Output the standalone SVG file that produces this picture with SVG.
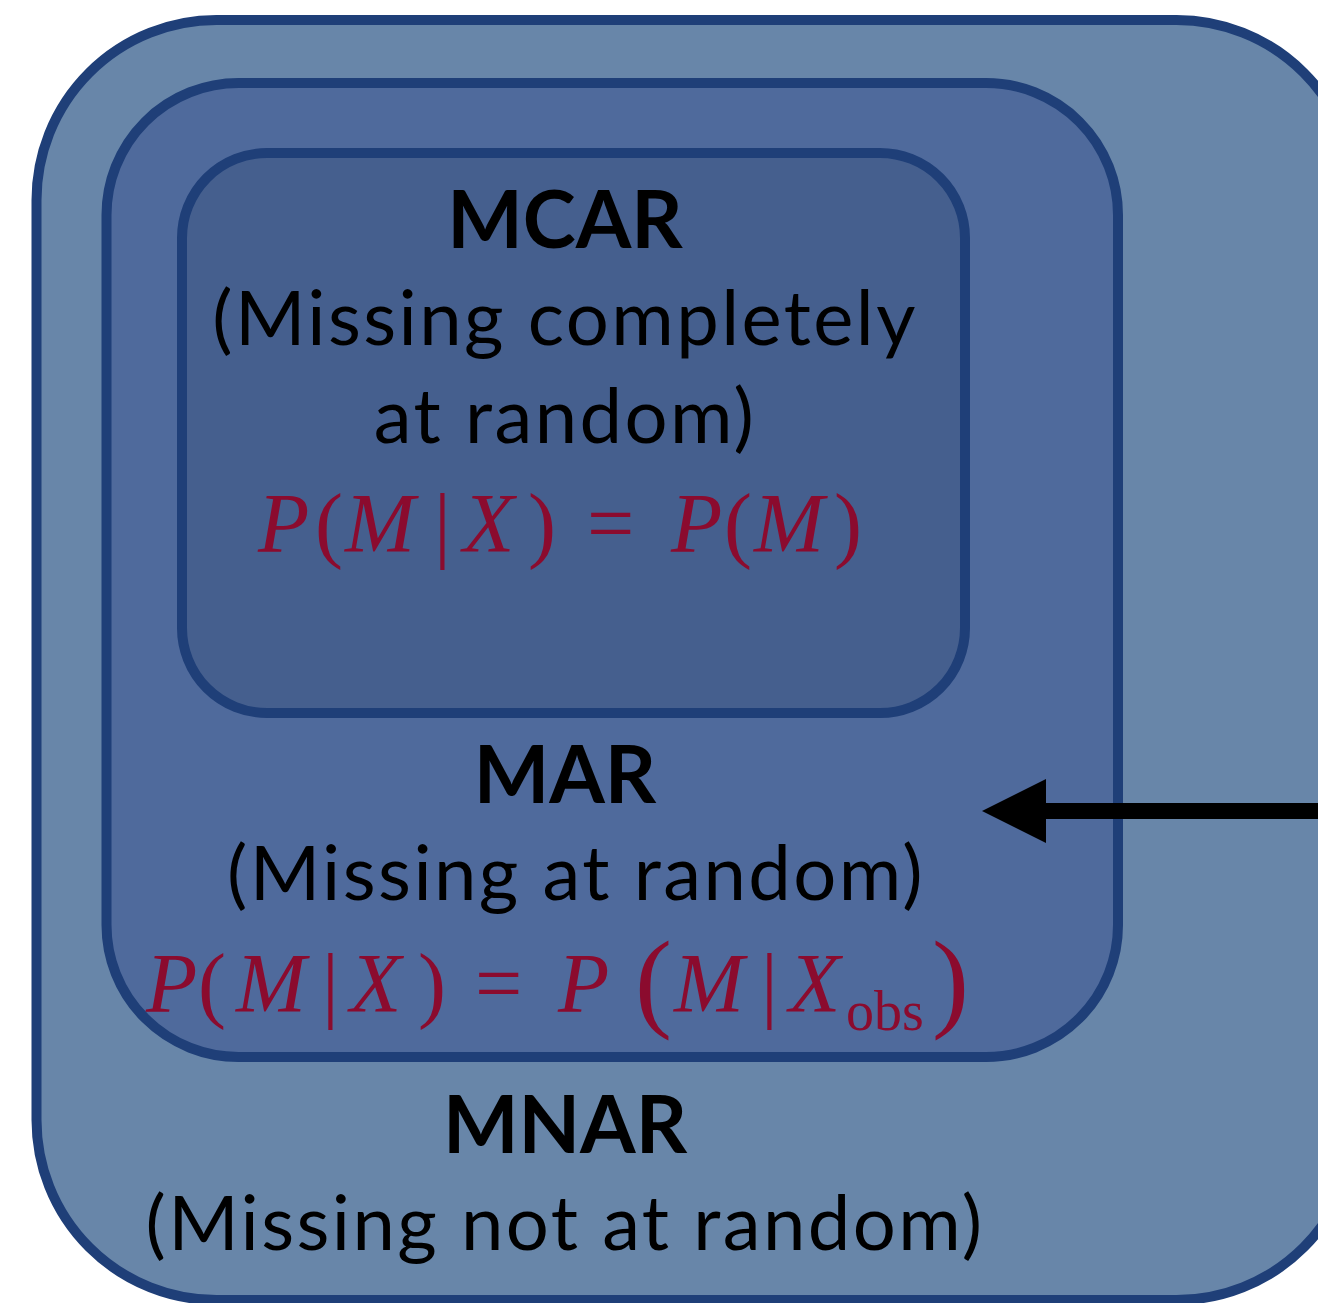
<svg xmlns="http://www.w3.org/2000/svg" width="1318" height="1303" viewBox="0 0 1318 1303">
  <style>
    .box { stroke: #1f3f78; stroke-width: 10; }
    .outer { fill: #6886a9; }
    .middle { fill: #4f6a9c; }
    .inner { fill: #455f8e; }
    .title { font-family: Lato, "Noto Sans", sans-serif; font-weight: 700; font-size: 80px; fill: #000; text-anchor: middle; }
    .desc { font-family: Lato, "Noto Sans", sans-serif; font-weight: 400; font-size: 76px; letter-spacing: 2.4px; fill: #000; text-anchor: middle; }
    .math { font-family: "Liberation Serif", "Times New Roman", serif; font-size: 84px; fill: #8b0b2e; }
    .it { font-style: italic; }
    .big { font-size: 111px; }
    .sub { font-size: 56px; }
    .arrow { stroke: #000; stroke-width: 16; fill: none; }
  </style>
  <defs>
    <marker id="head" viewBox="0 0 64 64" refX="0" refY="32" markerWidth="64" markerHeight="64" markerUnits="userSpaceOnUse" orient="auto">
      <path d="M0,0 L64,32 L0,64 Z" fill="#000"/>
    </marker>
  </defs>

  <rect width="1318" height="1303" fill="#fff"/>

  <!-- MNAR: outermost set -->
  <g id="mnar">
    <rect class="box outer" x="36.5" y="20" width="1320" height="1280" rx="180" ry="180"/>
    <text class="title" x="565" y="1153">MNAR</text>
    <text class="desc" x="565" y="1250">(Missing not at random)</text>
  </g>

  <!-- MAR: middle set -->
  <g id="mar">
    <rect class="box middle" x="106.5" y="83" width="1011.5" height="974" rx="132" ry="132"/>
    <text class="title" x="565" y="803">MAR</text>
    <text class="desc" x="576" y="900">(Missing at random)</text>
    <text class="math" y="1012"><tspan class="it" x="146">P</tspan><tspan x="198">(</tspan><tspan class="it" x="236">M</tspan><tspan x="322">|</tspan><tspan class="it" x="350">X</tspan><tspan x="418">)</tspan><tspan x="475">=</tspan><tspan class="it" x="558">P</tspan><tspan class="big" x="635" y="1017">(</tspan><tspan class="it" x="674" y="1012">M</tspan><tspan x="761">|</tspan><tspan class="it" x="789">X</tspan><tspan class="sub" x="846" y="1030">obs</tspan><tspan class="big" x="932" y="1017">)</tspan></text>
  </g>

  <!-- MCAR: innermost set -->
  <g id="mcar">
    <rect class="box inner" x="182" y="153" width="783" height="560" rx="85" ry="85"/>
    <text class="title" x="565" y="248">MCAR</text>
    <text class="desc" x="565" y="345">(Missing completely</text>
    <text class="desc" x="565" y="443">at random)</text>
    <text class="math" y="552"><tspan class="it" x="258">P</tspan><tspan x="315">(</tspan><tspan class="it" x="345">M</tspan><tspan x="434">|</tspan><tspan class="it" x="463">X</tspan><tspan x="528">)</tspan><tspan x="587">=</tspan><tspan class="it" x="671">P</tspan><tspan x="724">(</tspan><tspan class="it" x="754">M</tspan><tspan x="834">)</tspan></text>
  </g>

  <!-- connector entering the MAR set from the right -->
  <g id="connectors">
    <line class="arrow" x1="1330" y1="811" x2="1046" y2="811" marker-end="url(#head)"/>
  </g>
</svg>
